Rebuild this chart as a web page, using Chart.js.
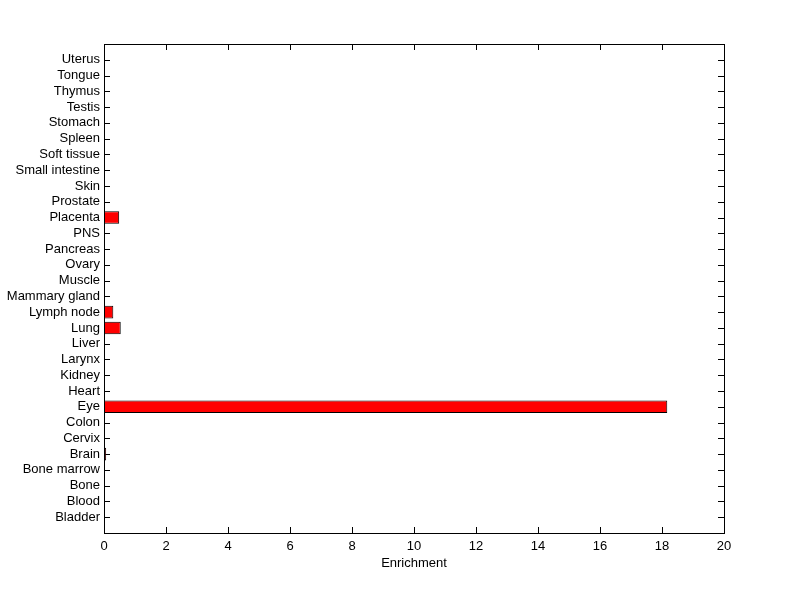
<!DOCTYPE html>
<html>
<head>
<meta charset="utf-8">
<script src="https://cdn.jsdelivr.net/npm/chart.js@4"></script>
<style>
  html, body { margin: 0; padding: 0; background: #fff; }
  #wrap { width: 800px; height: 599px; }
</style>
</head>
<body>
<div id="wrap"><canvas id="c"></canvas></div>
<script>
// tissues, bottom to top (as on the y axis)
const tissues = ['Bladder', 'Blood', 'Bone', 'Bone marrow', 'Brain', 'Cervix', 'Colon', 'Eye',
  'Heart', 'Kidney', 'Larynx', 'Liver', 'Lung', 'Lymph node', 'Mammary gland', 'Muscle',
  'Ovary', 'Pancreas', 'PNS', 'Placenta', 'Prostate', 'Skin', 'Small intestine',
  'Soft tissue', 'Spleen', 'Stomach', 'Testis', 'Thymus', 'Tongue', 'Uterus'];
const enrichment = [0, 0, 0, 0, 0.07, 0, 0, 18.17,
  0, 0, 0, 0, 0.54, 0.30, 0, 0,
  0, 0, 0, 0.49, 0, 0, 0,
  0, 0, 0, 0, 0, 0, 0];
const xTicks = [0, 2, 4, 6, 8, 10, 12, 14, 16, 18, 20];

const positions = tissues.map((t, i) => i + 1);
const points = positions.map((p, i) => ({ x: enrichment[i] > 0 ? enrichment[i] : null, y: p }));

const font = { family: 'Liberation Sans, Arial, sans-serif', size: 13 };

// matlab-like box with inward ticks on all four sides (ticks go under the bars)
const boxTicks = {
  id: 'boxTicks',
  beforeDatasetsDraw(chart) {
    const { ctx, chartArea: a, scales } = chart;
    const len = 6;
    ctx.save();
    ctx.strokeStyle = '#000';
    ctx.lineWidth = 1;
    ctx.beginPath();
    scales.x.ticks.forEach(t => {
      const px = Math.round(scales.x.getPixelForValue(t.value)) + 0.5;
      ctx.moveTo(px, a.bottom); ctx.lineTo(px, a.bottom - len);
      ctx.moveTo(px, a.top); ctx.lineTo(px, a.top + len);
    });
    scales.y.ticks.forEach(t => {
      const py = Math.round(scales.y.getPixelForValue(t.value)) + 0.5;
      ctx.moveTo(a.left, py); ctx.lineTo(a.left + len, py);
      ctx.moveTo(a.right, py); ctx.lineTo(a.right - len, py);
    });
    ctx.stroke();
    ctx.restore();
  },
  afterDraw(chart) {
    const { ctx, chartArea: a } = chart;
    ctx.save();
    ctx.strokeStyle = '#000';
    ctx.lineWidth = 1;
    ctx.strokeRect(Math.round(a.left) + 0.5, Math.round(a.top) + 0.5,
      Math.round(a.right - a.left), Math.round(a.bottom - a.top));
    ctx.restore();
  }
};

new Chart(document.getElementById('c'), {
  type: 'bar',
  data: {
    datasets: [{
      data: points,
      backgroundColor: '#ff0000',
      borderColor: '#000000',
      borderWidth: 1,
      borderSkipped: false,
      categoryPercentage: 0.8,
      barPercentage: 1.0
    }]
  },
  options: {
    indexAxis: 'y',
    responsive: true,
    maintainAspectRatio: false,
    animation: false,
    layout: { padding: { left: 0, right: 76, top: 44, bottom: 28 } },
    plugins: { legend: { display: false }, tooltip: { enabled: false } },
    scales: {
      x: {
        type: 'linear',
        min: 0, max: 20,
        afterBuildTicks: s => { s.ticks = xTicks.map(v => ({ value: v })); },
        afterFit: s => { s.height = 38; },
        grid: { display: false, drawTicks: false },
        border: { display: false },
        ticks: { color: '#000', font, padding: 6, maxRotation: 0 },
        title: { display: true, text: 'Enrichment', color: '#000', font, padding: { top: 0, bottom: 0 } }
      },
      y: {
        type: 'linear',
        offset: false,
        min: 0, max: tissues.length + 1,
        afterBuildTicks: s => { s.ticks = positions.map(v => ({ value: v })); },
        afterFit: s => { s.width = 104; },
        grid: { display: false, drawTicks: false, offset: false },
        border: { display: false },
        ticks: { color: '#000', font, padding: 4, autoSkip: false,
          callback: v => tissues[v - 1] }
      }
    }
  },
  plugins: [boxTicks]
});
</script>
</body>
</html>
